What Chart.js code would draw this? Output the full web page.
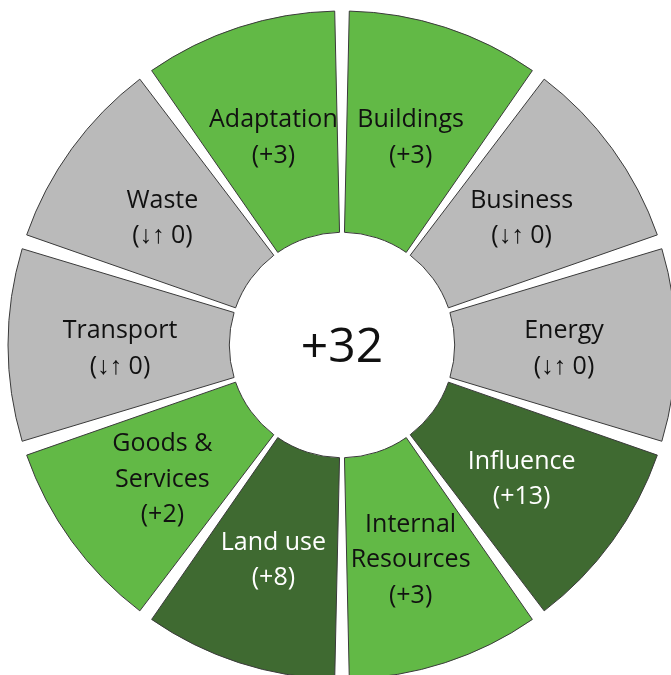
<!DOCTYPE html>
<html>
<head>
<meta charset="utf-8">
<script src="https://cdn.jsdelivr.net/npm/chart.js@4.4.0/dist/chart.umd.min.js"></script>
<style>
    html, body { margin: 0; padding: 0; background: #fff; overflow: hidden; width: 671px; height: 675px; }
    #wrap { position: absolute; left: 0; top: 3px; width: 684px; height: 684px; }
</style>
</head>
<body>
<div id="wrap"><canvas id="scoreWheel" width="684" height="684"></canvas></div>
<script>
// Categorias (sentido horário a partir do topo)
const categories = [
    ['Buildings'], ['Business'], ['Energy'], ['Influence'], ['Internal', 'Resources'],
    ['Land use'], ['Goods &', 'Services'], ['Transport'], ['Waste'], ['Adaptation']
];
const scores = [3, 0, 0, 13, 3, 8, 2, 0, 0, 3];
const tiers = ['up', 'flat', 'flat', 'high', 'up', 'high', 'up', 'flat', 'flat', 'up'];
const weights = [1, 1, 1, 1, 1, 1, 1, 1, 1, 1];
const totalScore = '+32';

const tierColors = { up: '#62b946', flat: '#bababa', high: '#3f6a31' };
const tierText = { up: '#111', flat: '#111', high: '#fff' };

function scoreText(v) {
    return v === 0 ? '(\u2193\u2191 0)' : '(+' + v + ')';
}

// Plugin: rótulos dentro dos setores + total no centro
const wheelLabels = {
    id: 'wheelLabels',
    afterDatasetsDraw(chart) {
        const ctx = chart.ctx;
        const arcs = chart.getDatasetMeta(0).data;
        ctx.save();
        ctx.textAlign = 'center';
        ctx.textBaseline = 'middle';
        ctx.font = '25px "Open Sans"';
        arcs.forEach(function(arc, i) {
            const p = arc.getProps(['x', 'y', 'startAngle', 'endAngle'], true);
            const mid = (p.startAngle + p.endAngle) / 2;
            const r = 222;
            const lines = categories[i].concat([scoreText(scores[i])]);
            const lh = 35.5;
            const cx = p.x + Math.cos(mid) * r;
            const cy = p.y + Math.sin(mid) * r + 4;
            ctx.fillStyle = tierText[tiers[i]];
            lines.forEach(function(t, j) {
                ctx.fillText(t, cx, cy + (j - (lines.length - 1) / 2) * lh);
            });
        });
        const a = arcs[0];
        ctx.fillStyle = '#111';
        ctx.font = '48px "Open Sans"';
        ctx.fillText(totalScore, a.x, a.y + 3);
        ctx.restore();
    }
};

new Chart(document.getElementById('scoreWheel'), {
    type: 'doughnut',
    data: {
        labels: categories.map(function(c) { return c.join(' '); }),
        datasets: [{
            data: weights,
            backgroundColor: tiers.map(function(t) { return tierColors[t]; }),
            borderColor: '#3a3a3a',
            borderWidth: 1,
            spacing: 30
        }]
    },
    options: {
        responsive: false,
        animation: false,
        radius: 319,
        cutout: 100,
        layout: { padding: 0 },
        plugins: {
            legend: { display: false },
            tooltip: { enabled: false }
        }
    },
    plugins: [wheelLabels]
});
</script>
</body>
</html>
